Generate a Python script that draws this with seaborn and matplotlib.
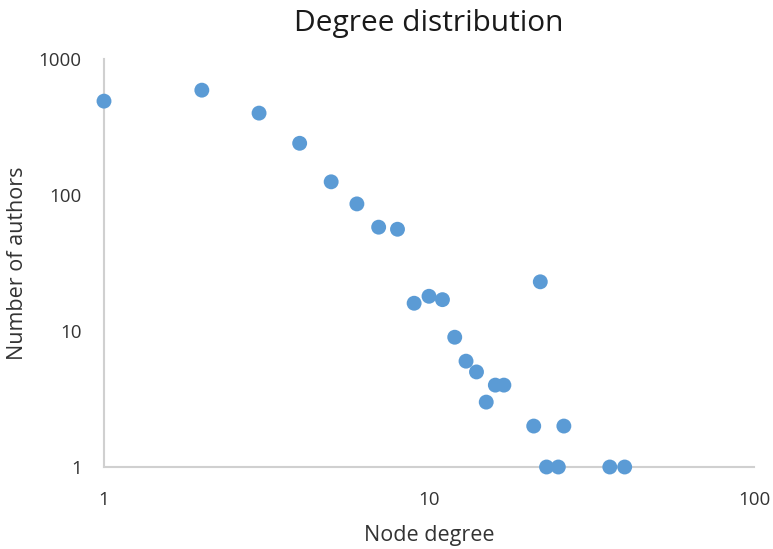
import matplotlib
matplotlib.use("Agg")
import matplotlib.pyplot as plt
import seaborn as sns
import pandas as pd

# Degree distribution of the co-authorship network
node_degree = [1, 2, 3, 4, 5, 6, 7, 8, 9, 10, 11, 12, 13, 14, 15, 16, 17,
               21, 22, 23, 25, 26, 36, 40]
num_authors = [490, 590, 400, 240, 125, 86, 58, 56, 16, 18, 17, 9, 6, 5, 3, 4, 4,
               2, 23, 1, 1, 2, 1, 1]

x_ticks = [1, 10, 100]
y_ticks = [1, 10, 100, 1000]

df = pd.DataFrame({"degree": node_degree, "authors": num_authors})

sns.set_theme(style="white")
plt.rcParams["font.family"] = ["Open Sans", "DejaVu Sans"]

fig = plt.figure(figsize=(7.73, 5.49), dpi=100)
ax = fig.add_axes([104 / 773, 1 - 467 / 549, 650 / 773, 408 / 549])

sns.scatterplot(data=df, x="degree", y="authors", ax=ax, s=115,
                color="#5B9BD5", edgecolor="none", clip_on=False, zorder=3)

ax.set_xscale("log")
ax.set_yscale("log")
ax.set_xlim(1, 100)
ax.set_ylim(1, 1000)
ax.set_xticks(x_ticks)
ax.set_xticklabels([str(t) for t in x_ticks])
ax.set_yticks(y_ticks)
ax.set_yticklabels([str(t) for t in y_ticks])
ax.minorticks_off()
ax.tick_params(axis="both", length=0, labelsize=13.5, colors="#333333")
ax.tick_params(axis="x", pad=17)
ax.tick_params(axis="y", pad=16)

for side in ("top", "right"):
    ax.spines[side].set_visible(False)
for side in ("left", "bottom"):
    ax.spines[side].set_color("#d0d0d0")
    ax.spines[side].set_linewidth(1.5)

ax.set_title("Degree distribution", fontsize=21.5, color="#1a1a1a", pad=20)
ax.set_xlabel("Node degree", fontsize=15.5, color="#333333", labelpad=12)
ax.set_ylabel("Number of authors", fontsize=15.5, color="#333333", labelpad=8)

fig.savefig("out.png", dpi=100)
